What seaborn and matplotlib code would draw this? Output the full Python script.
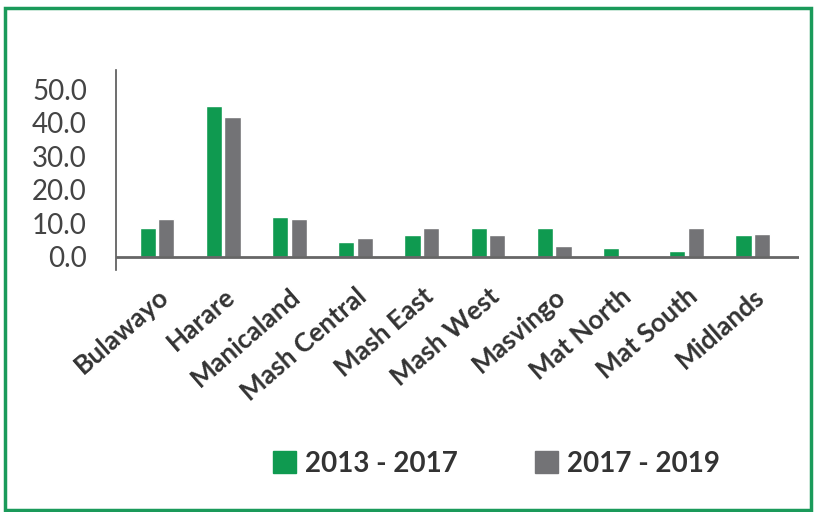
import matplotlib
matplotlib.use("Agg")
import matplotlib.pyplot as plt
from matplotlib.patches import Rectangle
import seaborn as sns
import pandas as pd

# Regional shares (%)
regions = ["Bulawayo", "Harare", "Manicaland", "Mash Central", "Mash East",
           "Mash West", "Masvingo", "Mat North", "Mat South", "Midlands"]
period_a = [8.7, 45.1, 11.9, 4.5, 6.6, 8.7, 8.7, 2.7, 1.8, 6.6]
period_b = [11.3, 41.8, 11.3, 5.7, 8.7, 6.6, 3.3, 0.0, 8.7, 6.9]
series_names = ["2013 - 2017", "2017 - 2019"]
yticks = [0, 10, 20, 30, 40, 50]

df = pd.DataFrame({
    "region": regions * 2,
    "value": period_a + period_b,
    "period": [series_names[0]] * len(regions) + [series_names[1]] * len(regions),
})

sns.set_style("white")
plt.rcParams["font.family"] = ["Lato", "DejaVu Sans"]

green = "#0f9a50"
grey = "#737376"

fig = plt.figure(figsize=(8.14, 5.12), dpi=100)
ax = fig.add_axes([0.1425, 0.4727, 0.8391, 0.3906])

sns.barplot(data=df, x="region", y="value", hue="period", order=regions,
            palette=[green, grey], width=0.56, gap=0.12, saturation=1,
            ax=ax, legend=False)

ax.set_ylim(-4, 55.8)
ax.set_xlim(-0.62, 9.7)
ax.set_yticks(yticks)
ax.set_yticklabels([f"{t:.1f}" for t in yticks], fontsize=20, color="#444444")
ax.set_xticks(range(len(regions)))
ax.set_xticklabels(regions, rotation=41, ha="right", rotation_mode="anchor",
                   fontsize=19, fontweight="bold", color="#333333")
ax.tick_params(axis="both", length=0)
ax.tick_params(axis="y", pad=21)
ax.tick_params(axis="x", pad=10)
ax.set_xlabel("")
ax.set_ylabel("")

for s in ["top", "right", "bottom"]:
    ax.spines[s].set_visible(False)
ax.spines["left"].set_color("#555555")
ax.spines["left"].set_linewidth(1.2)
ax.axhline(0, color="#666666", linewidth=2.0, zorder=3)

# legend
handles = [Rectangle((0, 0), 1, 1, color=green), Rectangle((0, 0), 1, 1, color=grey)]
fig.legend(handles, series_names, loc="center", bbox_to_anchor=(0.61, 0.094),
           ncol=2, frameon=False, handlelength=0.82, handleheight=0.82,
           handletextpad=0.34, columnspacing=2.75,
           prop={"size": 20, "weight": "bold"}, labelcolor="#333333")

# green frame
fig.patches.append(Rectangle((0.0065, 0.003), 0.99, 0.982, transform=fig.transFigure,
                             fill=False, edgecolor="#1a9a5a", linewidth=2.5))

fig.savefig("out.png", dpi=100)
